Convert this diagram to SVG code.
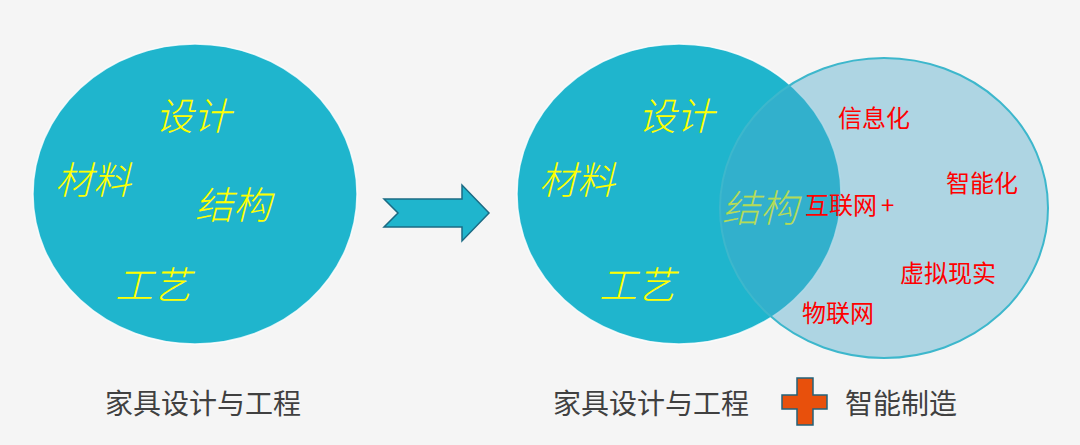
<svg xmlns="http://www.w3.org/2000/svg" width="1080" height="445" viewBox="0 0 1080 445">
<style>
.bg{fill:#f5f5f5}
.teal{fill:#1fb5cd;stroke:#ffffff;stroke-width:1.5;stroke-opacity:0.8}
.light{fill:rgb(76,169,202);fill-opacity:0.42;stroke:#3db7cc;stroke-width:2}
.yel{font-family:"Noto Sans CJK SC","Noto Sans",sans-serif;font-size:38px;font-style:italic;font-weight:300;fill:#ffff00}
.red{font-family:"Noto Sans CJK SC","Noto Sans",sans-serif;font-size:24px;fill:#ff0000}
.cap{font-family:"Noto Sans CJK SC","Noto Sans",sans-serif;font-size:28px;fill:#404040}
.arrow{fill:#1fb5cd;stroke:#1b6b84;stroke-width:1.5;stroke-linejoin:miter}
.plus{fill:#e8500c;stroke:#23627a;stroke-width:1.5}
</style>
<rect class="bg" x="0" y="0" width="1080" height="445"/>

<g id="left-circle">
<ellipse class="teal" cx="195" cy="194" rx="162" ry="150"/>
<text class="yel" x="155" y="130">设计</text>
<text class="yel" x="55" y="194">材料</text>
<text class="yel" x="195" y="219">结构</text>
<text class="yel" x="115" y="299">工艺</text>
</g>

<g id="left-caption">
<text class="cap" x="105" y="414">家具设计与工程</text>
</g>

<g id="connectors">
<polygon class="arrow" points="384,199 462,199 462,185 489,213 462,241 462,227 384,227 398,213"/>
</g>

<g id="right-teal-circle">
<ellipse class="teal" cx="679" cy="194" rx="162" ry="150"/>
<text class="yel" x="638" y="130">设计</text>
<text class="yel" x="539" y="194">材料</text>
<text class="yel" x="722" y="222">结构</text>
<text class="yel" x="599" y="299">工艺</text>
</g>

<g id="right-light-circle">
<ellipse class="light" cx="884" cy="208" rx="164" ry="150"/>
<text class="red" x="838" y="127">信息化</text>
<text class="red" x="946" y="192">智能化</text>
<text class="red" x="805" y="214">互联网<tspan dx="4">+</tspan></text>
<text class="red" x="900" y="282">虚拟现实</text>
<text class="red" x="802" y="322">物联网</text>
</g>

<g id="right-caption">
<text class="cap" x="553" y="414">家具设计与工程</text>
<polygon class="plus" points="797,378 813,378 813,395 827,395 827,409 813,409 813,425 797,425 797,409 782,409 782,395 797,395"/>
<text class="cap" x="845" y="414">智能制造</text>
</g>
</svg>
